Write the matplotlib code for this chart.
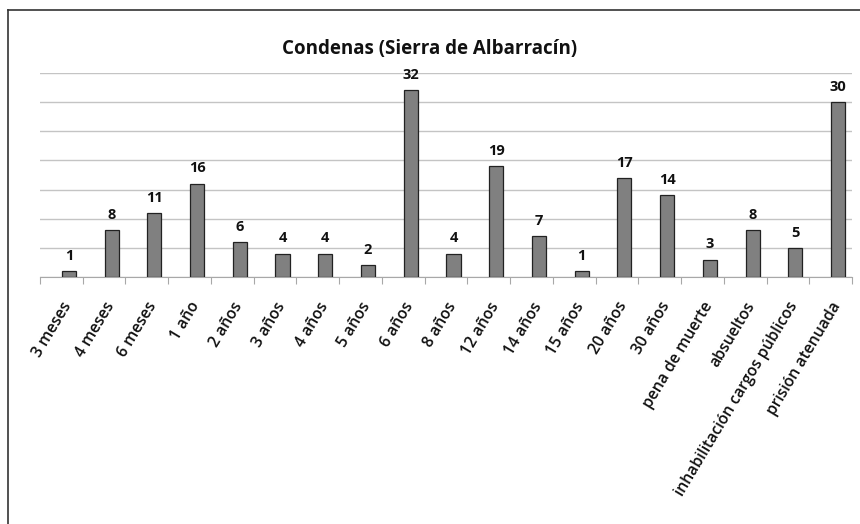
import matplotlib
matplotlib.use("Agg")
import matplotlib.pyplot as plt
from matplotlib.lines import Line2D
import numpy as np

categories = ["3 meses", "4 meses", "6 meses", "1 año", "2 años", "3 años", "4 años",
              "5 años", "6 años", "8 años", "12 años", "14 años", "15 años", "20 años",
              "30 años", "pena de muerte", "absueltos", "inhabilitación cargos públicos",
              "prisión atenuada"]
values = [1, 8, 11, 16, 6, 4, 4, 2, 32, 4, 19, 7, 1, 17, 14, 3, 8, 5, 30]
title = "Condenas (Sierra de Albarracín)"

plt.rcParams['font.family'] = ['Open Sans', 'DejaVu Sans']

fig = plt.figure(figsize=(8.6, 5.24), dpi=100)
ax = fig.add_axes([40/860, 1 - 277/524, 812/860, 204/524])

x = np.arange(len(categories))
off = 0.175
ax.bar(x + off, values, width=0.33, color="#808080", edgecolor="#222222",
       linewidth=0.9, zorder=3)
for xi, v in zip(x, values):
    ax.annotate(str(v), (xi + off, v), xytext=(0, 6), textcoords="offset points",
                ha="center", va="bottom", fontsize=10.5, fontweight="bold",
                color="#111111")

ax.set_xlim(-0.5, len(categories) - 0.5)
ax.set_ylim(0, 35)
ax.set_yticks(np.arange(0, 36, 5))
ax.yaxis.grid(True, color="#c4c4c4", linewidth=1)
ax.set_axisbelow(True)
ax.tick_params(axis="y", left=False, labelleft=False)
for s in ["top", "right", "left"]:
    ax.spines[s].set_visible(False)
ax.spines["bottom"].set_color("#a8a8a8")

ax.set_xticks(np.arange(-0.5, len(categories), 1.0), minor=False)
ax.set_xticklabels([])
ax.tick_params(axis="x", which="major", length=5, color="#a8a8a8")
ax.set_xticks(x, minor=True)
ax.set_xticklabels(categories, minor=True, rotation=59, ha="right",
                   rotation_mode="anchor", fontsize=11.3, color="#111111",
                   fontweight="semibold")
ax.tick_params(axis="x", which="minor", length=0, pad=16)

fig.text(0.5, 1 - 49/524, title, ha="center", va="center", fontsize=13.5,
         fontweight="bold", color="#111111")

fig.add_artist(Line2D([8/860, 1.0], [1 - 10/524, 1 - 10/524], color="#333333",
                      linewidth=1.2, transform=fig.transFigure))
fig.add_artist(Line2D([8/860, 8/860], [0, 1 - 10/524], color="#333333",
                      linewidth=1.2, transform=fig.transFigure))

fig.savefig("out.png", dpi=100)
